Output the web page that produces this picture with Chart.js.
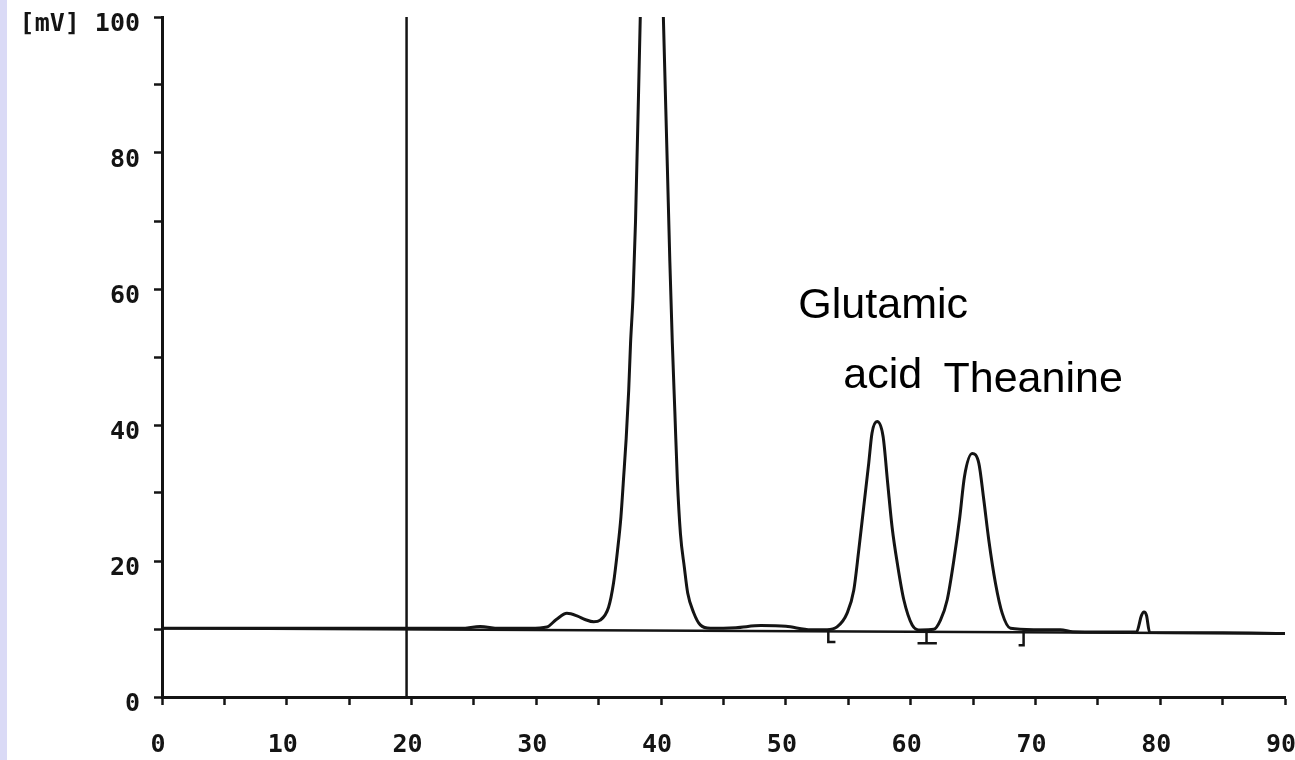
<!DOCTYPE html>
<html>
<head>
<meta charset="utf-8">
<title>HPLC chromatogram</title>
<script src="https://cdn.jsdelivr.net/npm/chart.js@4.4.1/dist/chart.umd.min.js"></script>
<style>
  html, body {
    margin: 0;
    padding: 0;
    width: 1295px;
    height: 760px;
    overflow: hidden;
    background: linear-gradient(to right, #dadaf6 0 7px, #ffffff 7px);
  }
  canvas { display: block; }
</style>
</head>
<body>
<canvas id="chromatogram" width="1295" height="760"></canvas>
<script>
// Detector trace: retention time (min) vs signal (mV)
const retentionMin = [
  0, 5, 10, 15, 20, 24, 25.5, 27, 29.5, 30.85, 31.6, 32.45, 33.3, 33.9, 34.6,
  35.12, 35.79, 36.19, 36.51, 36.78, 37.0, 37.2, 37.4, 37.55, 37.75, 37.95,
  38.33, 39.25, 40.18, 40.5, 40.7, 40.9, 41.1, 41.3, 41.55, 41.86, 42.13,
  42.61, 43.14, 43.95, 46, 48, 50, 52, 53.3, 54.1, 54.9, 55.44, 55.84, 56.24,
  56.64, 56.9, 57.31, 57.79, 58.16, 58.51, 58.97, 59.45, 60.12, 60.79, 61.85,
  62.39, 62.93, 63.46, 63.94, 64.31, 64.93, 65.46, 65.86, 66.26, 66.8, 67.34,
  68, 69.85, 72, 73, 78.1, 78.5, 78.7, 78.9, 79.15, 85, 90
];
const signalMv = [
  10.1, 10.1, 10.1, 10.1, 10.1, 10.1, 10.35, 10.1, 10.1, 10.3, 11.4, 12.3, 11.9, 11.4, 11.05,
  11.3, 13.2, 16.8, 21.6, 26.5, 32.4, 38, 45, 52, 59, 70,
  100, 170, 100, 78, 64, 52, 42, 32, 24, 19.1, 15.3,
  12.4, 10.6, 10.1, 10.2, 10.5, 10.4, 9.9, 9.9, 10.3, 12.3, 15.7, 21.6, 28,
  34.4, 38.8, 40.5, 38.3, 31.4, 25, 19.2, 14.3, 10.6, 9.85, 9.95,
  11.3, 14.3, 20.1, 26.5, 32.4, 35.8, 34.4, 29, 23.1, 16.7, 12.3,
  10.1, 9.9, 9.9, 9.6, 9.55, 12, 12.5, 12, 9.5, 9.45, 9.35
];

// Integrator baseline
const baselineMin = [0, 90];
const baselineMv = [10.1, 9.35];

// Peak start / end marks from the integrator (null separates strokes)
const cutMarkMin = [53.4, 53.4, 53.97, null, 61.27, 61.27, null, 60.55, 62.1, null, 69.05, 69.05, 68.65];
const cutMarkMv = [9.9, 8.1, 8.1, null, 9.9, 7.9, null, 7.9, 7.9, null, 9.8, 7.6, 7.6];

// Injection marker
const injectionMin = [19.6, 19.6];
const injectionMv = [0, 100];

// Axis ticks
const xLabelStep = 10;
const yLabelStep = 20;
const yUnit = '[mV]';

// Peak names
const peakLabelText = ['Glutamic', 'acid', 'Theanine'];
const peakLabelMin = [51.0, 54.6, 62.63];
const peakLabelMv = [55.74, 45.44, 44.85];

const toPoints = (xs, ys) => xs.map((x, i) => ({ x: x === null ? NaN : x, y: ys[i] }));

const ink = '#141414';
const tickFont = { family: "'DejaVu Sans Mono', monospace", size: 25, weight: 'bold' };

const peakLabelPlugin = {
  id: 'peakLabels',
  afterDatasetsDraw(chart) {
    const { ctx, scales: { x, y } } = chart;
    ctx.save();
    ctx.font = '43px "Liberation Sans", Arial, sans-serif';
    ctx.fillStyle = '#000';
    ctx.textBaseline = 'alphabetic';
    peakLabelText.forEach((t, i) => {
      ctx.fillText(t, x.getPixelForValue(peakLabelMin[i]), y.getPixelForValue(peakLabelMv[i]));
    });
    ctx.restore();
  }
};

new Chart(document.getElementById('chromatogram').getContext('2d'), {
  type: 'line',
  data: {
    datasets: [
      {
        data: toPoints(baselineMin, baselineMv),
        borderColor: ink,
        borderWidth: 2.5,
        tension: 0
      },
      {
        data: toPoints(injectionMin, injectionMv),
        borderColor: ink,
        borderWidth: 2.5,
        tension: 0
      },
      {
        data: toPoints(cutMarkMin, cutMarkMv),
        borderColor: ink,
        borderWidth: 2.5,
        tension: 0,
        spanGaps: false
      },
      {
        data: toPoints(retentionMin, signalMv),
        borderColor: ink,
        borderWidth: 3,
        cubicInterpolationMode: 'monotone'
      }
    ]
  },
  options: {
    responsive: false,
    animation: false,
    devicePixelRatio: 1,
    layout: { padding: { top: 17, right: 10, left: 0, bottom: 0 } },
    elements: { point: { radius: 0 } },
    plugins: {
      legend: { display: false },
      tooltip: { enabled: false }
    },
    scales: {
      x: {
        type: 'linear',
        min: 0,
        max: 90,
        ticks: {
          stepSize: 5,
          autoSkip: false,
          maxRotation: 0,
          padding: 25,
          labelOffset: -4,
          color: ink,
          font: tickFont,
          callback: v => (v % xLabelStep === 0 ? v : '')
        },
        grid: { drawOnChartArea: false, tickLength: 8, tickWidth: 2.5, tickColor: ink },
        border: { color: ink, width: 3 },
        afterFit(scale) {
          scale.height = 63;
          scale.paddingLeft = 0;
          scale.paddingRight = 0;
        }
      },
      y: {
        type: 'linear',
        min: 0,
        max: 100,
        ticks: {
          stepSize: 10,
          padding: 14,
          labelOffset: 7,
          color: ink,
          font: tickFont,
          callback: v => (v === 100 ? yUnit + ' ' + v : (v % yLabelStep === 0 ? v : ''))
        },
        grid: { drawOnChartArea: false, tickLength: 8, tickWidth: 2.5, tickColor: ink },
        border: { color: ink, width: 3 },
        afterFit(scale) {
          scale.width = 162;
          scale.paddingTop = 0;
          scale.paddingBottom = 0;
        }
      }
    }
  },
  plugins: [peakLabelPlugin]
});
</script>
</body>
</html>
